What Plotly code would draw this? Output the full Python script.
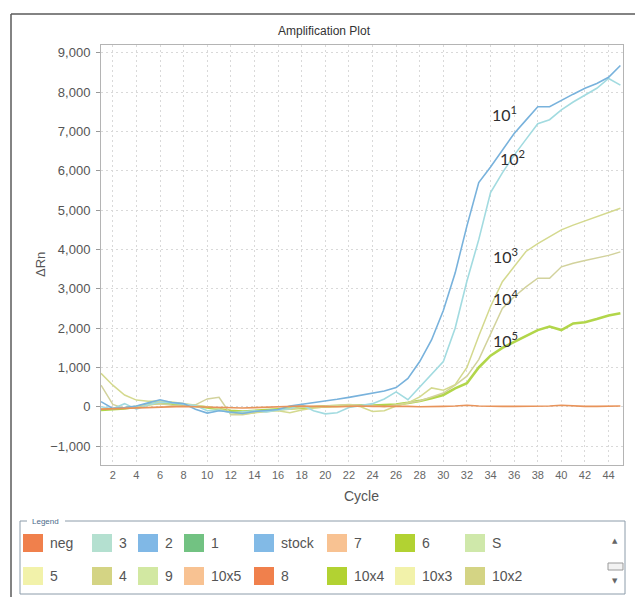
import plotly.graph_objects as go

# ---------------- data ----------------
cycles = list(range(1, 46))

neg = [-60, -50, -40, -20, -10, 0, 10, 10, 0, -10, -20, -20, -30, -20, -10, 0,
       10, 20, 10, 0, 0, 10, 20, 10, 10, 20, 10, 0, 0, 10, 20, 40, 20, 10, 10,
       10, 10, 10, 20, 40, 20, 10, 10, 10, 20]

d1e1 = [130, -40, -20, 20, 100, 180, 110, 80, -60, -160, -100, -130, -170, -120, -90, -70,
        20, 60, 100, 140, 190, 240, 290, 340, 400, 490, 720, 1150, 1700, 2450, 3400, 4600,
        5700, 6100, 6530, 6950, 7290, 7630, 7630, 7800, 7950, 8100, 8220, 8380, 8680]

d1e2 = [0, -50, 80, -60, 50, 120, 100, 60, 30, -100, -80, -150, -120, -100, -130, -80,
        -50, 60, -100, -180, -150, -20, 30, 80, 200, 380, 180, 500, 820, 1150, 2000, 3200,
        4250, 5450, 5950, 6400, 6800, 7200, 7300, 7550, 7750, 7920, 8100, 8350, 8180]

d1e3 = [850, 550, 300, 170, 140, 150, 120, 80, 50, 0, -50, -150, -180, -150, -120, -100,
        -150, -80, -30, 0, 20, 50, 0, -120, -100, 20, 100, 250, 480, 420, 560, 1000,
        1800, 2550, 3180, 3560, 3950, 4150, 4330, 4500, 4620, 4730, 4840, 4950, 5050]

d1e4 = [550, 60, -40, 0, 60, 80, 40, 20, 50, 200, 240, -200, -200, -150, -100, -80,
        -60, -20, 0, 20, 40, 60, 40, 30, 0, 50, 100, 150, 250, 350, 550, 780,
        1200, 1850, 2500, 2800, 3050, 3270, 3270, 3560, 3650, 3720, 3780, 3850, 3940]

d1e5 = [-80, -60, -40, 0, 60, 100, 80, 40, 20, -20, -60, -100, -120, -100, -80, -60,
        -40, -20, 0, 10, 20, 30, 40, 30, 40, 60, 100, 150, 220, 300, 470, 600,
        1000, 1300, 1500, 1650, 1800, 1950, 2040, 1950, 2120, 2150, 2230, 2320, 2380]

series_names = ["10^5", "10^4", "10^3", "10^2", "10^1", "neg"]
series_values = [d1e5, d1e4, d1e3, d1e2, d1e1, neg]
series_colors = ["#b2d64a", "#d2d29c", "#d4d98e", "#a2dbe0", "#78b2dc", "#e8935a"]
series_widths = [2.6, 1.5, 1.5, 1.6, 1.6, 1.6]

label_texts = ["10<sup>1</sup>", "10<sup>2</sup>", "10<sup>3</sup>", "10<sup>4</sup>", "10<sup>5</sup>"]
label_x = [35.2, 35.85, 35.25, 35.3, 35.25]
label_y = [7470, 6350, 3860, 2790, 1700]

y_ticks = [-1000, 0, 1000, 2000, 3000, 4000, 5000, 6000, 7000, 8000, 9000]
x_ticks = list(range(2, 46, 2))

legend_names = ["neg", "3", "2", "1", "stock", "7", "6", "S",
                "5", "4", "9", "10x5", "8", "10x4", "10x3", "10x2"]
legend_colors = ["#f0804c", "#b4e0d0", "#80b8e6", "#72c282", "#82bae6", "#f8c292", "#b2d232", "#cfe8aa",
                 "#f2f2aa", "#d4d484", "#d2e8a2", "#f8c292", "#f0804c", "#b2d232", "#f2f2aa", "#d4d484"]

# ---------------- layout geometry (pixels) ----------------
W, H = 635, 597
ML, MR, MT, MB = 101, 12, 45, 132
PW, PH = W - ML - MR, H - MT - MB


def px(x):
    return (x - ML) / PW


def py(y):
    return (H - MB - y) / PH


fig = go.Figure()
for name, vals, col, w in zip(series_names, series_values, series_colors, series_widths):
    fig.add_trace(go.Scatter(x=cycles, y=vals, mode="lines", name=name,
                             line=dict(color=col, width=w), showlegend=False))

annotations = []
for t, lx, ly in zip(label_texts, label_x, label_y):
    annotations.append(dict(x=lx, y=ly, xref="x", yref="y", text=t, showarrow=False,
                            font=dict(family="Lato", size=16, color="#2e2e2e"),
                            xanchor="center", yanchor="middle"))

# title & axis titles
annotations.append(dict(x=px(324), y=py(31), xref="paper", yref="paper", text="Amplification Plot",
                        showarrow=False, font=dict(family="Liberation Sans", size=12, color="#333"),
                        xanchor="center", yanchor="middle"))
annotations.append(dict(x=px(40), y=py(265), xref="paper", yref="paper", text="ΔRn", textangle=-90,
                        showarrow=False, font=dict(family="Liberation Sans", size=13, color="#555"),
                        xanchor="center", yanchor="middle"))
annotations.append(dict(x=px(361), y=py(496), xref="paper", yref="paper", text="Cycle",
                        showarrow=False, font=dict(family="Liberation Sans", size=14, color="#555"),
                        xanchor="center", yanchor="middle"))

shapes = []
# outer frame
shapes.append(dict(type="line", xref="paper", yref="paper", x0=px(11), x1=px(11), y0=py(14), y1=py(597),
                   line=dict(color="#5a5a5a", width=1.5)))
shapes.append(dict(type="line", xref="paper", yref="paper", x0=px(11), x1=px(635), y0=py(14), y1=py(14),
                   line=dict(color="#5a5a5a", width=1.5)))

# legend box
box_col = "#8c9caa"
shapes.append(dict(type="line", xref="paper", yref="paper", x0=px(20), x1=px(20), y0=py(521), y1=py(594),
                   line=dict(color=box_col, width=1)))
shapes.append(dict(type="line", xref="paper", yref="paper", x0=px(625), x1=px(625), y0=py(521), y1=py(594),
                   line=dict(color=box_col, width=1)))
shapes.append(dict(type="line", xref="paper", yref="paper", x0=px(20), x1=px(625), y0=py(594), y1=py(594),
                   line=dict(color=box_col, width=1)))
shapes.append(dict(type="line", xref="paper", yref="paper", x0=px(20), x1=px(27), y0=py(521), y1=py(521),
                   line=dict(color=box_col, width=1)))
shapes.append(dict(type="line", xref="paper", yref="paper", x0=px(65), x1=px(625), y0=py(521), y1=py(521),
                   line=dict(color=box_col, width=1)))
annotations.append(dict(x=px(30), y=py(521), xref="paper", yref="paper", text="Legend", showarrow=False,
                        font=dict(family="Liberation Sans", size=8, color="#4a6a8a"),
                        xanchor="left", yanchor="middle"))

col_left = [23, 92, 138, 184, 254, 327, 395, 465]
row_center = [543, 576]
for i, (nm, cl) in enumerate(zip(legend_names, legend_colors)):
    r, c = divmod(i, len(col_left))
    x0 = col_left[c]
    yc = row_center[r]
    shapes.append(dict(type="rect", xref="paper", yref="paper", x0=px(x0), x1=px(x0 + 20),
                       y0=py(yc - 9), y1=py(yc + 9), fillcolor=cl, line=dict(width=0)))
    annotations.append(dict(x=px(x0 + 25), y=py(yc), xref="paper", yref="paper", text=nm,
                            showarrow=False, font=dict(family="Liberation Sans", size=14, color="#555"),
                            xanchor="left", yanchor="middle"))

# scrollbar
annotations.append(dict(x=px(615), y=py(541), xref="paper", yref="paper", text="▲", showarrow=False,
                        font=dict(family="DejaVu Sans", size=7, color="#666"), xanchor="center", yanchor="middle"))
annotations.append(dict(x=px(615), y=py(581), xref="paper", yref="paper", text="▼", showarrow=False,
                        font=dict(family="DejaVu Sans", size=7, color="#666"), xanchor="center", yanchor="middle"))
shapes.append(dict(type="rect", xref="paper", yref="paper", x0=px(608), x1=px(623), y0=py(563), y1=py(570),
                   fillcolor="#f2f2f2", line=dict(color="#9a9a9a", width=1)))

fig.update_layout(
    width=W, height=H,
    margin=dict(l=ML, r=MR, t=MT, b=MB),
    paper_bgcolor="white", plot_bgcolor="white",
    showlegend=False,
    annotations=annotations,
    shapes=shapes,
    xaxis=dict(range=[1, 45.22], tickvals=x_ticks, ticks="", showline=True, mirror=True,
               linecolor="#b4b4b4", linewidth=1, showgrid=True, gridcolor="#d9d9d9",
               griddash="2px,3px", gridwidth=1, zeroline=False,
               tickfont=dict(family="Liberation Sans", size=11, color="#666")),
    yaxis=dict(range=[-1480, 9200], tickvals=y_ticks, tickformat=",d", ticks="outside", ticklen=4,
               tickcolor="#999", showline=True, mirror=True, linecolor="#b4b4b4", linewidth=1,
               showgrid=True, gridcolor="#d9d9d9", griddash="2px,3px", gridwidth=1, zeroline=False,
               ticklabelstandoff=3,
               tickfont=dict(family="Liberation Sans", size=13, color="#555")),
)

fig.write_html("out.html", config={"displayModeBar": False},
               post_script="document.body.style.margin='0';document.body.style.overflow='hidden';")
